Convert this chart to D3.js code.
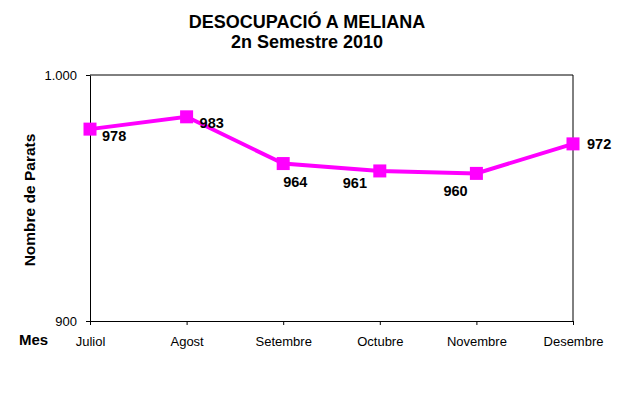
<!DOCTYPE html>
<html>
<head>
<meta charset="utf-8">
<script src="https://cdn.jsdelivr.net/npm/d3@7"></script>
<style>
  body { margin: 0; background: #fff; }
  svg { font-family: "Liberation Sans", Arial, sans-serif; }
</style>
</head>
<body>
<div id="chart"></div>
<script>
var months = ["Juliol", "Agost", "Setembre", "Octubre", "Novembre", "Desembre"];
var parats = [978, 983, 964, 961, 960, 972];
var yTicks = [900, 1000];
var titleLines = ["DESOCUPACIÓ A MELIANA", "2n Semestre 2010"];

var width = 620, height = 398,
  margin = { top: 75, right: 47, bottom: 77, left: 90 };

var svg = d3.select("#chart").append("svg")
  .attr("width", width).attr("height", height);

var x = d3.scalePoint().domain(months).range([margin.left, width - margin.right]);
var y = d3.scaleLinear().domain([900, 1000]).range([height - margin.bottom, margin.top]);

// title
svg.append("g").selectAll("text").data(titleLines).enter().append("text")
  .attr("x", 307).attr("y", function(d, i) { return 28 + i * 20; })
  .attr("text-anchor", "middle")
  .style("font-size", "18px").style("font-weight", "bold")
  .text(function(d) { return d; });

// plot frame (top and right)
svg.append("path")
  .attr("d", "M" + margin.left + "," + margin.top + "H" + (width - margin.right) + "V" + (height - margin.bottom))
  .attr("fill", "none").attr("stroke", "#000").attr("stroke-width", 1);

// axes
var xAxis = svg.append("g")
  .attr("transform", "translate(0," + (height - margin.bottom) + ")")
  .call(d3.axisBottom(x).tickSizeOuter(0).tickSizeInner(4).tickPadding(12));
var yAxis = svg.append("g")
  .attr("transform", "translate(" + margin.left + ",0)")
  .call(d3.axisLeft(y).tickValues(yTicks).tickSizeOuter(0).tickSizeInner(4).tickPadding(9)
    .tickFormat(function(d) { return d3.format(",")(d).replace(",", "."); }));
[xAxis, yAxis].forEach(function(a) {
  a.selectAll("path, line").attr("stroke", "#000");
  a.selectAll("text").attr("fill", "#000").style("font-size", "13px").style("font-family", "Liberation Sans, Arial, sans-serif");
});

// axis titles
svg.append("text")
  .attr("transform", "translate(35,200) rotate(-90)")
  .attr("text-anchor", "middle")
  .style("font-size", "15.5px").style("font-weight", "bold")
  .text("Nombre de Parats");
svg.append("text")
  .attr("x", 19).attr("y", 345)
  .style("font-size", "15px").style("font-weight", "bold")
  .text("Mes");

var data = months.map(function(m, i) { return { month: m, value: parats[i] }; });

var line = d3.line()
  .x(function(d) { return x(d.month); })
  .y(function(d) { return y(d.value); });

svg.append("path").datum(data)
  .attr("d", line)
  .attr("fill", "none").attr("stroke", "#ff00ff").attr("stroke-width", 4);

svg.append("g").selectAll("rect").data(data).enter().append("rect")
  .attr("x", function(d) { return x(d.month) - 6.5; })
  .attr("y", function(d) { return y(d.value) - 6.5; })
  .attr("width", 13).attr("height", 13)
  .attr("fill", "#ff00ff");

// label placement, Excel-like
var off = [[12, 12], [13, 11], [0, 23], [-37, 17], [-33, 23], [14, 5]];
svg.append("g").selectAll("text").data(data).enter().append("text")
  .attr("x", function(d, i) { return x(d.month) + off[i][0]; })
  .attr("y", function(d, i) { return y(d.value) + off[i][1]; })
  .style("font-size", "14.5px").style("font-weight", "bold")
  .text(function(d) { return d.value; });
</script>
</body>
</html>
